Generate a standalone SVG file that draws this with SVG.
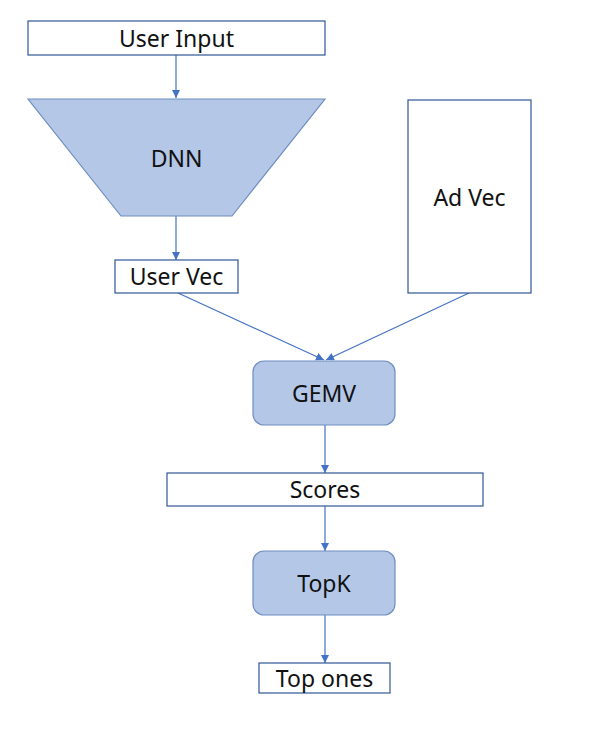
<svg xmlns="http://www.w3.org/2000/svg" width="598" height="738" viewBox="0 0 598 738">
<defs>
<marker id="arr" viewBox="0 0 10 10" refX="10" refY="5" markerWidth="8" markerHeight="8" markerUnits="userSpaceOnUse" orient="auto">
<path d="M0,0 L10,5 L0,10 z" fill="#4472C4"/>
</marker>
<style>
.box{fill:#fff;stroke:#2F5597;stroke-width:1.2}
.shape{fill:#B4C7E7;stroke:#6F8DC2;stroke-width:1.2}
.t{font-family:"Noto Sans","Open Sans",sans-serif;font-size:23px;fill:#111;text-anchor:middle;dominant-baseline:central}
.c{stroke:#4472C4;stroke-width:1.2;fill:none;marker-end:url(#arr)}
</style>
</defs>
<rect width="598" height="738" fill="#fff"/>
<g id="connectors">
<line class="c" x1="176" y1="55" x2="176" y2="98"/>
<line class="c" x1="176" y1="216" x2="176" y2="260"/>
<line class="c" x1="178" y1="293" x2="324" y2="360"/>
<line class="c" x1="469" y1="293" x2="326" y2="360"/>
<line class="c" x1="325" y1="425" x2="325" y2="473"/>
<line class="c" x1="325" y1="506" x2="325" y2="551"/>
<line class="c" x1="325" y1="615" x2="325" y2="663"/>
</g>
<g id="user-input"><rect class="box" x="28" y="21" width="297" height="34"/><text class="t" x="176.5" y="38">User Input</text></g>
<g id="dnn"><polygon class="shape" points="28,99 325,99 232,216 121,216"/><text class="t" x="176.5" y="158">DNN</text></g>
<g id="user-vec"><rect class="box" x="115" y="260" width="123" height="33"/><text class="t" x="176.5" y="276">User Vec</text></g>
<g id="ad-vec"><rect class="box" x="408" y="100" width="123" height="193"/><text class="t" x="469.5" y="197">Ad Vec</text></g>
<g id="gemv"><rect class="shape" x="253" y="361" width="142" height="64" rx="11"/><text class="t" x="324" y="393">GEMV</text></g>
<g id="scores"><rect class="box" x="167" y="473" width="316" height="33"/><text class="t" x="325" y="489">Scores</text></g>
<g id="topk"><rect class="shape" x="253" y="551" width="142" height="64" rx="11"/><text class="t" x="324" y="583">TopK</text></g>
<g id="top-ones"><rect class="box" x="259" y="663" width="131" height="30"/><text class="t" x="324.5" y="678">Top ones</text></g>
</svg>
